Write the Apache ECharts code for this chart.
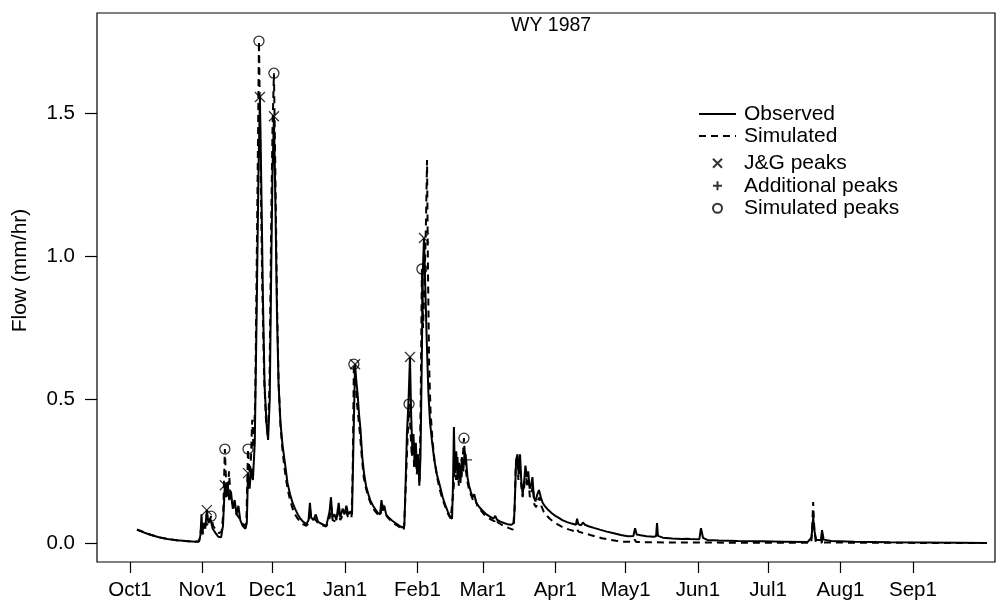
<!DOCTYPE html>
<html>
<head>
<meta charset="utf-8">
<script src="https://cdn.jsdelivr.net/npm/echarts@6/dist/echarts.min.js"></script>
<style>
  html, body { margin: 0; padding: 0; background: #fff; }
  #chart { width: 1007px; height: 604px; }
</style>
</head>
<body>
<div id="chart"></div>
<script>
// days counted from Oct 1 1986 (water year 1987)
var monthDays = [0, 31, 61, 92, 123, 151, 182, 212, 243, 273, 304, 335];
var monthLabels = ['Oct1', 'Nov1', 'Dec1', 'Jan1', 'Feb1', 'Mar1', 'Apr1', 'May1', 'Jun1', 'Jul1', 'Aug1', 'Sep1'];
var yTicks = [0, 0.5, 1.0, 1.5];

// observed flow [day, mm/hr]
var observed = [
  [3,0.046],[5,0.040],[8,0.031],[12,0.021],[16,0.014],[20,0.010],[24,0.007],[28,0.005],[29.6,0.006],
  [30.2,0.03],[30.6,0.10],[31.0,0.035],[31.6,0.07],[32.2,0.05],[32.9,0.115],[33.6,0.07],[34.4,0.085],[35.4,0.05],
  [36.6,0.035],[37.8,0.022],[39.0,0.02],[39.8,0.06],[40.6,0.202],[41.2,0.16],[41.8,0.19],[42.5,0.15],[43.2,0.18],
  [44.0,0.12],[44.8,0.15],[45.6,0.10],[46.4,0.13],[47.2,0.08],[48.2,0.06],[49.4,0.05],[50.0,0.07],[50.5,0.244],
  [51.2,0.19],[51.8,0.26],[52.6,0.22],[53.4,0.35],[54.2,0.8],[55.0,1.3],[55.6,1.556],[56.2,1.25],[56.9,0.85],
  [57.6,0.55],[58.4,0.42],[59.1,0.36],[59.8,0.5],[60.5,1.0],[61.0,1.3],[61.6,1.489],[62.2,1.2],[62.9,0.8],
  [63.6,0.55],[64.4,0.42],[65.3,0.34],[66.3,0.28],[67.4,0.21],[68.5,0.17],[69.6,0.14],[70.6,0.12],[71.8,0.10],
  [72.7,0.088],[74.0,0.075],[75.4,0.066],[76.4,0.08],[77.0,0.14],[77.5,0.09],[78.5,0.08],[79.5,0.1],[80.4,0.075],
  [81.3,0.07],[82.5,0.065],[84.0,0.06],[85.4,0.11],[86.0,0.16],[86.6,0.09],[87.5,0.1],[88.3,0.08],[89.3,0.14],
  [90.0,0.09],[91.0,0.12],[91.8,0.1],[92.6,0.13],[93.4,0.1],[94.3,0.11],[95.0,0.1],[95.5,0.3],[96.3,0.624],
  [96.8,0.57],[97.4,0.52],[98.0,0.45],[98.6,0.4],[99.4,0.3],[100.2,0.24],[101.0,0.2],[102.0,0.17],[102.8,0.15],
  [104.0,0.13],[105.0,0.118],[106.1,0.105],[107.0,0.1],[107.6,0.15],[108.1,0.12],[108.8,0.13],[109.6,0.1],
  [110.8,0.088],[112.2,0.078],[113.6,0.07],[115.0,0.062],[116.5,0.054],[117.4,0.06],[117.9,0.2],[118.5,0.38],
  [119.2,0.5],[119.8,0.649],[120.3,0.45],[120.8,0.33],[121.3,0.38],[121.8,0.27],[122.3,0.35],[122.8,0.25],
  [123.3,0.31],[123.8,0.2],[124.3,0.3],[124.8,0.6],[125.3,0.95],[125.8,1.064],[126.4,0.88],[127.0,0.7],
  [127.7,0.52],[128.4,0.42],[129.3,0.35],[130.2,0.29],[131.3,0.24],[132.6,0.2],[133.8,0.16],[134.8,0.135],
  [136.0,0.11],[137.0,0.092],[137.8,0.085],[138.2,0.2],[138.6,0.405],[139.0,0.25],[139.6,0.32],[140.2,0.22],
  [140.8,0.28],[141.4,0.21],[142.0,0.3],[142.6,0.25],[143.2,0.32],[143.8,0.29],[144.4,0.23],[145.1,0.2],
  [145.8,0.18],[146.6,0.16],[147.3,0.17],[148.2,0.14],[149.5,0.125],[151.0,0.112],[152.5,0.1],[154.0,0.092],
  [155.5,0.085],[156.3,0.095],[157.0,0.082],[158.5,0.075],[160.0,0.07],[161.5,0.066],[163.2,0.064],[164.3,0.07],
  [164.8,0.18],[165.2,0.29],[165.8,0.31],[166.3,0.24],[166.9,0.31],[167.4,0.22],[168.0,0.17],[168.6,0.21],
  [169.2,0.27],[169.8,0.23],[170.4,0.25],[171.0,0.19],[171.6,0.2],[172.2,0.23],[172.8,0.16],[173.5,0.145],
  [174.3,0.17],[175.0,0.185],[175.8,0.16],[176.6,0.14],[177.6,0.128],[179.0,0.115],[180.5,0.104],[182.0,0.095],
  [183.5,0.088],[185.0,0.08],[187.0,0.073],[189.0,0.068],[190.8,0.064],[191.3,0.085],[191.8,0.066],[193.0,0.062],
  [193.8,0.072],[194.6,0.064],[196.5,0.058],[198.5,0.053],[201.0,0.047],[204.0,0.04],[207.0,0.034],[210.0,0.028],
  [213.0,0.024],[215.4,0.025],[216.1,0.052],[216.8,0.03],[218.5,0.027],[221.0,0.024],[224.0,0.022],[225.1,0.024],
  [225.5,0.07],[225.9,0.025],[228.0,0.019],[232.0,0.016],[236.0,0.014],[238.3,0.015],[239.0,0.02],[239.8,0.014],
  [243.6,0.013],[244.3,0.052],[245.2,0.018],[247.0,0.011],[252.0,0.009],[260.0,0.007],[270.0,0.006],[280.0,0.005],
  [290.0,0.004],[291.6,0.02],[292.3,0.09],[292.9,0.04],[293.6,0.012],[295.6,0.01],[296.1,0.045],[296.8,0.012],
  [300.0,0.007],[310.0,0.005],[325.0,0.003],[340.0,0.002],[355.0,0.001],[366.7,0.0]
];

// simulated flow [day, mm/hr]
var simulated = [
  [3,0.048],[6,0.038],[9,0.029],[13,0.019],[17,0.013],[21,0.009],[25,0.006],[29.4,0.005],
  [30.0,0.02],[30.5,0.06],[31.0,0.03],[31.8,0.05],[32.6,0.07],[33.4,0.06],[34.7,0.094],[35.6,0.06],[36.8,0.045],
  [38.0,0.035],[39.2,0.04],[39.9,0.1],[40.6,0.328],[41.2,0.2],[41.8,0.18],[42.4,0.25],[43.0,0.16],[43.8,0.14],
  [44.6,0.12],[45.6,0.1],[46.6,0.09],[47.6,0.075],[48.8,0.06],[49.8,0.07],[50.5,0.328],[51.2,0.24],[51.8,0.3],
  [52.3,0.43],[52.9,0.33],[53.6,0.5],[54.4,1.1],[55.2,1.751],[55.9,1.3],[56.6,0.9],[57.4,0.58],[58.2,0.43],
  [59.0,0.37],[59.7,0.55],[60.4,1.1],[61.0,1.45],[61.6,1.639],[62.2,1.3],[62.9,0.85],[63.6,0.56],[64.4,0.41],
  [65.3,0.32],[66.3,0.25],[67.4,0.19],[68.5,0.15],[69.6,0.12],[70.6,0.1],[71.8,0.085],[72.7,0.075],[74.0,0.066],
  [75.4,0.06],[76.6,0.07],[77.1,0.12],[77.6,0.08],[79.0,0.085],[80.4,0.07],[82.0,0.063],[84.0,0.058],[85.5,0.09],
  [86.1,0.13],[86.7,0.08],[88.0,0.075],[89.3,0.11],[90.0,0.08],[91.2,0.1],[92.5,0.11],[93.5,0.085],[94.8,0.09],
  [95.3,0.25],[95.8,0.624],[96.4,0.58],[97.0,0.5],[97.7,0.44],[98.4,0.38],[99.2,0.3],[100.0,0.23],[101.0,0.19],
  [102.0,0.16],[103.2,0.135],[104.5,0.115],[106.0,0.1],[107.2,0.095],[107.8,0.14],[108.4,0.11],[109.2,0.115],
  [110.2,0.09],[111.6,0.078],[113.0,0.068],[114.6,0.06],[116.2,0.05],[117.2,0.046],[117.8,0.15],[118.6,0.33],
  [119.4,0.485],[120.0,0.4],[120.6,0.3],[121.1,0.36],[121.6,0.26],[122.2,0.32],[122.7,0.24],[123.3,0.28],
  [123.9,0.21],[124.4,0.5],[124.9,0.956],[125.4,0.75],[126.0,0.9],[126.6,1.1],[127.1,1.336],[127.5,0.95],
  [128.0,0.62],[128.6,0.46],[129.4,0.36],[130.3,0.29],[131.4,0.23],[132.6,0.185],[133.8,0.15],[135.0,0.125],
  [136.2,0.1],[137.2,0.086],[137.9,0.08],[138.4,0.18],[139.0,0.27],[139.5,0.22],[140.1,0.3],[140.7,0.2],
  [141.3,0.27],[141.9,0.23],[142.4,0.3],[142.9,0.366],[143.5,0.27],[144.2,0.22],[145.0,0.19],[145.8,0.17],
  [146.8,0.15],[147.6,0.158],[148.6,0.13],[150.0,0.115],[151.5,0.1],[153.0,0.09],[154.5,0.082],[156.0,0.076],
  [156.6,0.085],[157.4,0.072],[159.0,0.064],[160.6,0.058],[162.2,0.052],[163.8,0.047],[164.6,0.12],[165.0,0.26],
  [165.6,0.3],[166.2,0.22],[166.8,0.29],[167.4,0.2],[168.0,0.16],[168.6,0.19],[169.3,0.25],[169.9,0.2],
  [170.5,0.22],[171.1,0.16],[171.8,0.18],[172.4,0.2],[173.0,0.135],[173.8,0.125],[174.6,0.15],[175.3,0.16],
  [176.0,0.13],[177.0,0.11],[178.2,0.097],[179.6,0.085],[181.2,0.075],[182.8,0.066],[184.5,0.058],[186.2,0.052],
  [188.0,0.047],[190.0,0.042],[191.2,0.05],[191.9,0.04],[193.5,0.036],[195.0,0.033],[197.0,0.028],[199.5,0.022],
  [202.0,0.017],[205.0,0.012],[208.0,0.008],[211.0,0.005],[215.0,0.004],[215.9,0.012],[216.6,0.004],[222.0,0.003],
  [230.0,0.002],[244.0,0.002],[244.5,0.008],[245.2,0.002],[260.0,0.001],[291.5,0.001],[291.9,0.06],[292.3,0.143],
  [292.8,0.05],[293.4,0.004],[296.0,0.002],[296.3,0.02],[296.8,0.002],[320,0.001],[366.7,0.0]
];

var jgPeaks = [[32.9,0.115],[40.6,0.202],[50.5,0.244],[55.6,1.556],[61.6,1.489],[96.3,0.624],[119.8,0.649],[125.8,1.064]];
var addPeaks = [[143.8,0.29]];
var simPeaks = [[34.7,0.094],[40.6,0.328],[50.5,0.328],[55.2,1.751],[61.6,1.639],[95.8,0.624],[119.4,0.485],[124.9,0.956],[142.9,0.366]];

var font = 'Liberation Sans';
var myChart = echarts.init(document.getElementById('chart'));
var noDot = { color: 'rgba(0,0,0,0)', borderWidth: 0 };

myChart.setOption({
  animation: false,
  backgroundColor: '#fff',
  title: {
    text: 'WY 1987',
    left: 511,
    top: 16,
    padding: 0,
    textStyle: { fontFamily: font, fontSize: 19.5, fontWeight: 'normal', color: '#000' }
  },
  legend: [
    {
      data: [
        { name: 'Observed', itemStyle: noDot },
        { name: 'Simulated', itemStyle: noDot }
      ],
      orient: 'vertical',
      left: 698,
      top: 103,
      padding: 0,
      itemGap: 0,
      itemWidth: 37,
      itemHeight: 9,
      selectedMode: false,
      textStyle: { fontFamily: font, fontSize: 21, color: '#000', lineHeight: 22, padding: [0, 0, 0, 3] }
    },
    {
      data: ['J&G peaks', 'Additional peaks', 'Simulated peaks'],
      orient: 'vertical',
      left: 712,
      top: 152,
      padding: 0,
      itemGap: 0,
      itemWidth: 37,
      itemHeight: 9,
      selectedMode: false,
      textStyle: { fontFamily: font, fontSize: 21, color: '#000', lineHeight: 22.5, padding: [0, 0, 0, 3] }
    }
  ],
  grid: {
    left: 97, right: 12, top: 13, bottom: 42,
    show: true, borderColor: '#000', borderWidth: 1.2, backgroundColor: 'transparent'
  },
  xAxis: {
    type: 'value',
    min: -14.1,
    max: 370.1,
    axisLine: { show: false, onZero: false },
    splitLine: { show: false },
    axisTick: { show: true, customValues: monthDays, length: 11, lineStyle: { color: '#000', width: 1.2 } },
    axisLabel: {
      customValues: monthDays,
      margin: 18,
      fontFamily: font, fontSize: 20.5, color: '#000',
      formatter: function (val) {
        var i = monthDays.indexOf(val);
        return i >= 0 ? monthLabels[i] : '';
      }
    }
  },
  yAxis: {
    type: 'value',
    min: -0.066,
    max: 1.849,
    name: 'Flow (mm/hr)',
    nameLocation: 'middle',
    nameGap: 66,
    nameTextStyle: { fontFamily: font, fontSize: 21, color: '#000', padding: [0, 0, 0, 34] },
    axisLine: { show: false, onZero: false },
    splitLine: { show: false },
    axisTick: { show: true, customValues: yTicks, length: 12, lineStyle: { color: '#000', width: 1.2 } },
    axisLabel: {
      customValues: yTicks,
      margin: 22,
      fontFamily: font, fontSize: 20.5, color: '#000',
      formatter: function (val) { return val.toFixed(1); }
    }
  },
  series: [
    {
      name: 'Observed',
      type: 'line',
      data: observed,
      symbol: 'none',
      lineStyle: { color: '#000', width: 2 },
      itemStyle: { color: '#000' },
      z: 3
    },
    {
      name: 'Simulated',
      type: 'line',
      data: simulated,
      symbol: 'none',
      lineStyle: { color: '#000', width: 2, type: [7, 5] },
      itemStyle: { color: '#000' },
      z: 2
    },
    {
      name: 'J&G peaks',
      type: 'scatter',
      data: jgPeaks,
      symbol: 'path://M0,0L10,10M10,0L0,10',
      symbolSize: 10,
      itemStyle: { color: 'rgba(0,0,0,0)', borderColor: '#000', borderWidth: 1.3 },
      z: 4
    },
    {
      name: 'Additional peaks',
      type: 'scatter',
      data: addPeaks,
      symbol: 'path://M5,0L5,10M0,5L10,5',
      symbolSize: 12,
      itemStyle: { color: 'rgba(0,0,0,0)', borderColor: '#000', borderWidth: 1.3 },
      z: 4
    },
    {
      name: 'Simulated peaks',
      type: 'scatter',
      data: simPeaks,
      symbol: 'circle',
      symbolSize: 10,
      itemStyle: { color: 'rgba(0,0,0,0)', borderColor: '#000', borderWidth: 1.3 },
      z: 4
    }
  ]
});
</script>
</body>
</html>
